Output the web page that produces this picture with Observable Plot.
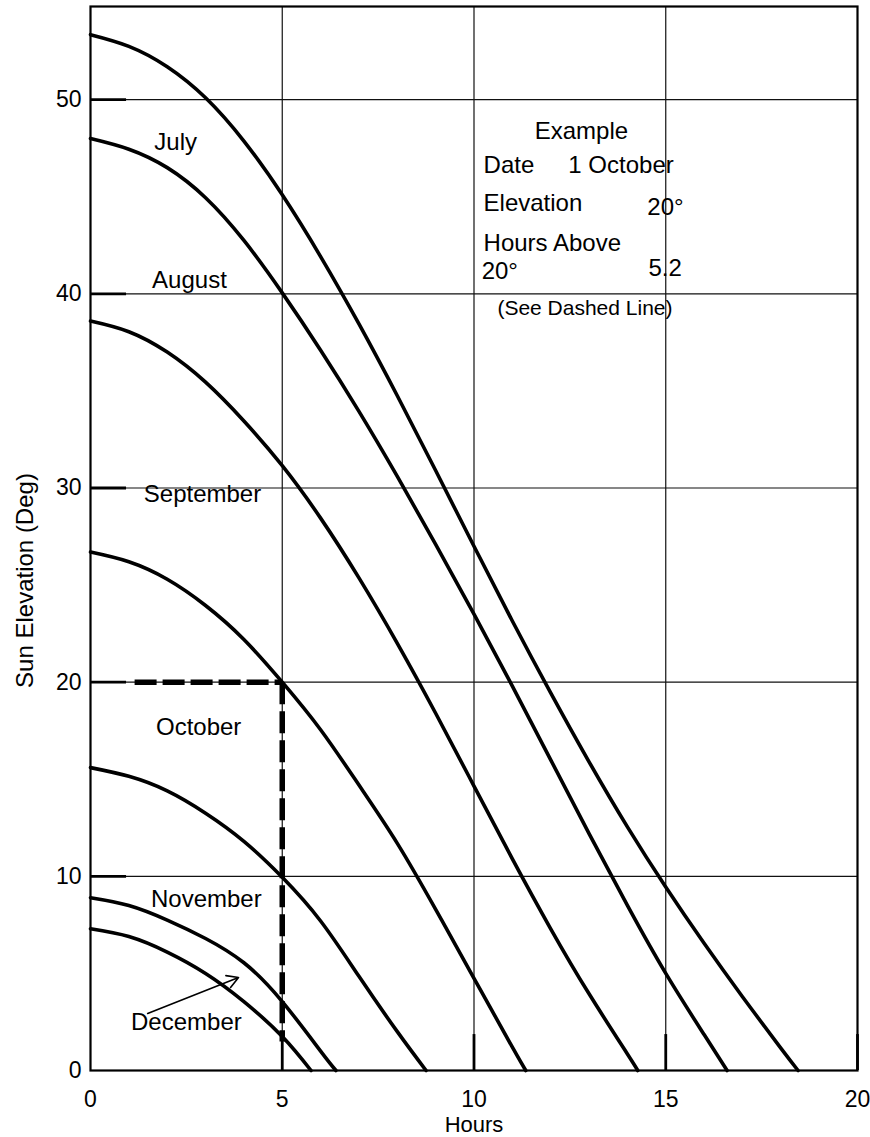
<!DOCTYPE html>
<html><head><meta charset="utf-8">
<script src="https://cdn.jsdelivr.net/npm/d3@7"></script>
<script src="https://cdn.jsdelivr.net/npm/@observablehq/plot@0.6"></script>
<style>
html,body{margin:0;padding:0;background:#fff;}
#chart svg{display:block;}
</style></head><body><div id="chart"></div>
<script>
// Axis ticks
const hourTicks = [0, 5, 10, 15, 20];
const elevTicks = [0, 10, 20, 30, 40, 50];

// Sun elevation curves: [hours, elevation deg]
const july = [[0,53.35],[1,52.75],[2,51.7],[3,50.1],[4,47.87],[5,45.1],[6,41.92],[7,38.45],[8,34.75],[9,30.9],[10,27.0],[11,23.15],[12,19.45],[13,15.9],[14,12.55],[15,9.45],[16,6.55],[17,3.8],[18,1.15],[18.45,0]];
const august = [[0,48],[1,47.45],[2,46.5],[3,44.95],[4,42.75],[5,40.05],[6,37.1],[7,33.95],[8,30.6],[9,27.1],[10,23.5],[11,19.8],[12,16.0],[13,12.2],[14,8.5],[15,5.0],[16,1.85],[16.6,0]];
const september = [[0,38.6],[1,38.05],[2,37.0],[3,35.45],[4,33.45],[5,31.15],[6,28.45],[7,25.37],[8,22.0],[9,18.4],[10,14.65],[11,10.9],[12,7.3],[13,3.95],[14,0.85],[14.27,0]];
const october = [[0,26.7],[1,26.2],[2,25.3],[3,23.95],[4,22.2],[5,20.0],[6,17.55],[7,14.7],[8,11.7],[9,8.3],[10,4.75],[11,1.2],[11.35,0]];
const november = [[0,15.6],[1,15.15],[2,14.4],[3,13.25],[4,11.8],[5,9.95],[6,7.7],[7,4.85],[8,2.0],[8.75,0]];
const december = [[0,8.9],[1,8.5],[2,7.75],[3,6.8],[4,5.55],[5,3.55],[6,1.0],[6.4,0]];
const decemberLow = [[0,7.3],[1,6.9],[2,6.1],[3,5.0],[4,3.55],[5,1.75],[5.75,0]];

const seriesNames = ["July","August","September","October","November","December","December (low)"];
const seriesValues = [july, august, september, october, november, december, decemberLow];

// Worked example (dashed line)
const exampleH = [[1.15,20],[5,20]];
const exampleV = [[5,20],[5,1.5]];

// Curve labels
const labelText = ["July","August","September","October","November","December"];
const labelH = [2.22, 2.58, 2.92, 2.82, 3.02, 2.5];
const labelE = [47.8, 40.7, 29.7, 17.7, 8.8, 2.47];

// December arrow
const arrowFrom = [1.49, 2.94];
const arrowTo = [3.86, 4.79];

// Example box text
const boxText = ["Date","1 October","Elevation","20°","Hours Above","20°","5.2"];
const boxH = [10.25, 12.46, 10.25, 14.52, 10.25, 10.2, 14.55];
const boxE = [46.6, 46.6, 44.65, 44.44, 42.6, 41.14, 41.3];

const table = seriesNames.flatMap((m, i) => seriesValues[i].map(([h, e]) => ({month: m, h, e})));
const labels = labelText.map((t, i) => ({t, h: labelH[i], e: labelE[i]}));
const box = boxText.map((t, i) => ({t, h: boxH[i], e: boxE[i]}));
const toXY = a => a.map(([h, e]) => ({h, e}));

const FONT = "'Liberation Sans', Arial, Helvetica, sans-serif";
const tickLenH = 0.94;   // inward tick length (hours)
const tickLenE = 1.85;   // inward tick length (deg)

const chart = Plot.plot({
  width: 870,
  height: 1137,
  marginLeft: 90,
  marginRight: 13,
  marginTop: 6,
  marginBottom: 67,
  style: {fontFamily: FONT, fontSize: "23px", color: "#000", background: "#fff"},
  x: {domain: [0, 20], ticks: hourTicks, tickSize: 0, tickPadding: 20, label: null, tickFormat: d => String(d)},
  y: {domain: [0, 54.8], ticks: elevTicks, tickSize: 0, tickPadding: 9, label: null, tickFormat: d => String(d)},
  marks: [
    Plot.ruleX(hourTicks.filter(d => d > 0 && d < 20), {stroke: "#111", strokeWidth: 1.2}),
    Plot.ruleY(elevTicks.filter(d => d > 0), {stroke: "#111", strokeWidth: 1.2}),
    Plot.ruleY(elevTicks.filter(d => d > 0), {x1: 0, x2: tickLenH, stroke: "#000", strokeWidth: 2.8}),
    Plot.ruleX(hourTicks.filter(d => d > 0), {y1: 0, y2: tickLenE, stroke: "#000", strokeWidth: 2.8}),
    Plot.line(table, {x: "h", y: "e", z: "month", curve: "natural", stroke: "#000", strokeWidth: 3.6}),
    Plot.line(toXY(exampleH), {x: "h", y: "e", stroke: "#000", strokeWidth: 5.5, strokeDasharray: "22,6", strokeLinecap: "butt"}),
    Plot.line(toXY(exampleV), {x: "h", y: "e", stroke: "#000", strokeWidth: 5.5, strokeDasharray: "22,7", strokeLinecap: "butt"}),
    Plot.frame({stroke: "#000", strokeWidth: 2.2}),
    Plot.text(labels, {x: "h", y: "e", text: "t", fontSize: 24, fill: "#000"}),
    Plot.arrow([{x1: arrowFrom[0], y1: arrowFrom[1], x2: arrowTo[0], y2: arrowTo[1]}], {x1: "x1", y1: "y1", x2: "x2", y2: "y2", stroke: "#000", strokeWidth: 1.6, headLength: 12}),
    Plot.text(["Example"], {x: 12.8, y: 48.35, fontSize: 24, fill: "#000"}),
    Plot.text(box, {x: "h", y: "e", text: "t", textAnchor: "start", fontSize: 24, fill: "#000"}),
    Plot.text(["(See Dashed Line)"], {x: 10.61, y: 39.24, textAnchor: "start", fontSize: 21, fill: "#000"}),
    Plot.text(["Hours"], {frameAnchor: "bottom", textAnchor: "middle", lineAnchor: "middle", dy: 54, fontSize: 22, fill: "#000"}),
    Plot.text(["Sun Elevation (Deg)"], {frameAnchor: "left", textAnchor: "middle", lineAnchor: "middle", dx: -65, dy: 42, rotate: -90, fontSize: 24, fill: "#000"})
  ]
});
document.getElementById("chart").appendChild(chart);
</script>
</body></html>
